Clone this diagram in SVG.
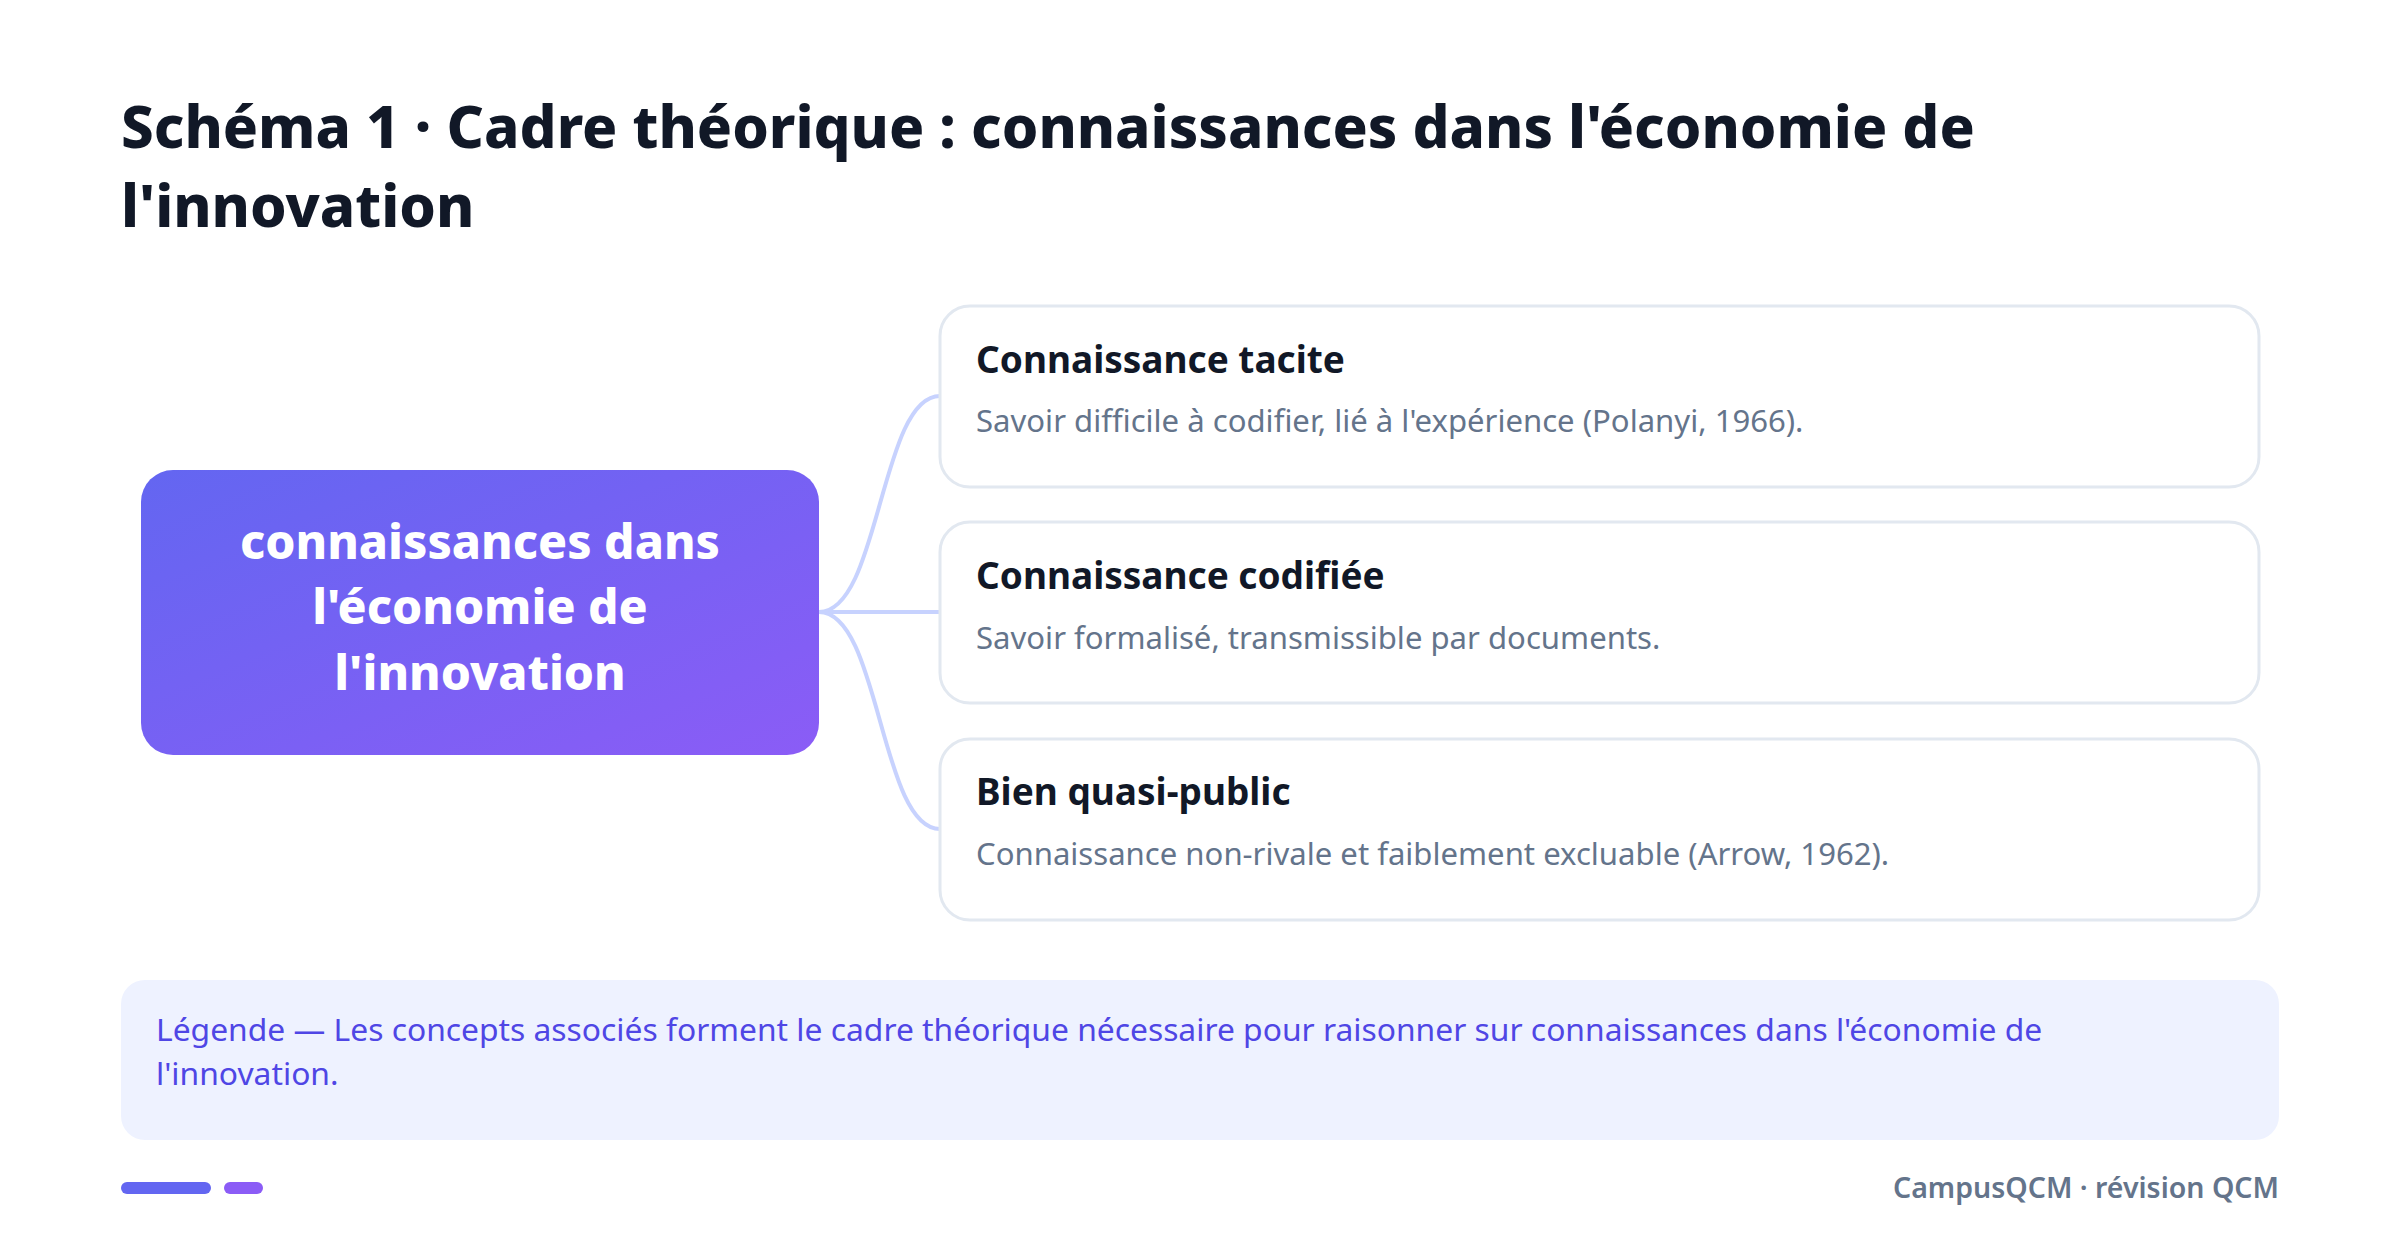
<svg xmlns="http://www.w3.org/2000/svg" width="2400" height="1249" viewBox="0 0 2400 1249">
<defs>
<linearGradient id="mainGrad" x1="0" y1="0" x2="1" y2="1">
<stop offset="0" stop-color="#6366f1"/>
<stop offset="1" stop-color="#8b5cf6"/>
</linearGradient>
<style>
.title{font-family:"Noto Sans","Open Sans",sans-serif;font-weight:800;font-size:58.2px;fill:#111827}
.main{font-family:"Noto Sans","Open Sans",sans-serif;font-weight:800;font-size:48px;fill:#ffffff}
.card{fill:#ffffff;stroke:#e2e8f0;stroke-width:3}
.ctitle{font-family:"Noto Sans","Open Sans",sans-serif;font-weight:700;font-size:37px;fill:#111827}
.cdesc{font-family:"Noto Sans","Open Sans",sans-serif;font-weight:400;font-size:31.1px;fill:#64748b}
.conn{fill:none;stroke:#c7d2fe;stroke-width:4}
.legend{font-family:"Noto Sans","Open Sans",sans-serif;font-weight:400;font-size:31.8px;fill:#4f46e5}
.foot{font-family:"Noto Sans","Open Sans",sans-serif;font-weight:600;font-size:28.5px;fill:#64748b}
</style>
</defs>
<rect width="2400" height="1249" fill="#ffffff"/>
<g id="title">
<text class="title" x="121" y="148">Schéma 1 · Cadre théorique : connaissances dans l'économie de</text>
<text class="title" x="121" y="227">l'innovation</text>
</g>
<g id="connectors">
<path class="conn" d="M819 612 C880 612 880 396 940 396"/>
<path class="conn" d="M819 612 L940 612"/>
<path class="conn" d="M819 612 C880 612 880 829 940 829"/>
</g>
<g id="node-main">
<rect x="141" y="470" width="678" height="285" rx="32" fill="url(#mainGrad)"/>
<text class="main" x="480" y="559" text-anchor="middle">connaissances dans</text>
<text class="main" x="480" y="624" text-anchor="middle">l'économie de</text>
<text class="main" x="480" y="690" text-anchor="middle">l'innovation</text>
</g>
<g id="node-tacite">
<rect class="card" x="940" y="306" width="1319" height="181" rx="30"/>
<text class="ctitle" x="976" y="373">Connaissance tacite</text>
<text class="cdesc" x="976" y="432">Savoir difficile à codifier, lié à l'expérience (Polanyi, 1966).</text>
</g>
<g id="node-codifiee">
<rect class="card" x="940" y="522" width="1319" height="181" rx="30"/>
<text class="ctitle" x="976" y="589">Connaissance codifiée</text>
<text class="cdesc" x="976" y="649">Savoir formalisé, transmissible par documents.</text>
</g>
<g id="node-bien">
<rect class="card" x="940" y="739" width="1319" height="181" rx="30"/>
<text class="ctitle" x="976" y="805">Bien quasi-public</text>
<text class="cdesc" x="976" y="865">Connaissance non-rivale et faiblement excluable (Arrow, 1962).</text>
</g>
<g id="legend">
<rect x="121" y="980" width="2158" height="160" rx="24" fill="#eef2ff"/>
<text class="legend" x="156" y="1041">Légende — Les concepts associés forment le cadre théorique nécessaire pour raisonner sur connaissances dans l'économie de</text>
<text class="legend" x="156" y="1085">l'innovation.</text>
</g>
<g id="footer">
<rect x="121" y="1182" width="90" height="12" rx="6" fill="#6366f1"/>
<rect x="224" y="1182" width="39" height="12" rx="6" fill="#8b5cf6"/>
<text class="foot" x="2279" y="1198" text-anchor="end">CampusQCM · révision QCM</text>
</g>
</svg>
